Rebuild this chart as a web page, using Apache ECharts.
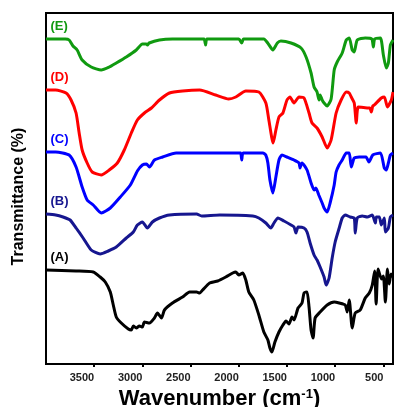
<!DOCTYPE html>
<html>
<head>
<meta charset="utf-8">
<script src="https://cdn.jsdelivr.net/npm/echarts@6/dist/echarts.min.js"></script>
<style>
  html, body { margin: 0; padding: 0; background: #fff; }
  #chart { width: 394px; height: 407px; }
</style>
</head>
<body>
<div id="chart"></div>
<script>
// FTIR spectra, [wavenumber, transmittance (offset, arbitrary units)]
var tickValues = [3500, 3000, 2500, 2000, 1500, 1000, 500];
var curveNames = ["(A)", "(B)", "(C)", "(D)", "(E)"];
var curveColors = ["#000000", "#16168f", "#0000ff", "#ff0000", "#109a10"];

var curveE = [[4000,325],[3900,325],[3800,325],[3760,324],[3720,318],[3677,314],[3625,304],[3531,297],[3427,294],[3344,297],[3271,301],[3167,307],[3063,314],[3000,320],[2960,320],[2948,319],[2930,321],[2823,324],[2688,325],[2400,325],[2360,325],[2344,319],[2330,325],[2000,325],[1969,321],[1950,325],[1740,325],[1700,321],[1646,314],[1600,321],[1563,323],[1458,321],[1354,316],[1302,307],[1250,291],[1219,277],[1188,272],[1167,264],[1156,269],[1135,264],[1115,261],[1083,258],[1042,265],[1010,294],[979,302],[927,311],[885,324],[854,326],[823,314],[802,312],[771,324],[688,326],[620,325],[604,317],[590,325],[531,326],[500,309],[469,296],[448,301],[427,319],[400,324]];

var curveD = [[4000,274],[3900,274],[3792,271],[3740,264],[3688,251],[3656,231],[3625,214],[3573,201],[3521,192],[3427,189],[3344,194],[3260,201],[3188,214],[3115,231],[3052,244],[2979,251],[2906,256],[2823,264],[2719,271],[2583,273],[2406,274],[2240,269],[2104,265],[2031,267],[1927,273],[1792,272],[1719,261],[1688,244],[1643,221],[1615,234],[1583,247],[1542,251],[1500,264],[1469,267],[1427,261],[1375,267],[1323,266],[1271,251],[1240,241],[1188,236],[1135,227],[1083,216],[1042,224],[990,251],[938,264],[885,272],[854,271],[833,267],[802,261],[781,241],[760,257],[667,256],[640,256],[625,252],[610,258],[594,259],[521,266],[490,267],[458,257],[417,264],[400,272]];

var curveC = [[4000,212],[3900,212],[3760,209],[3688,197],[3625,177],[3573,164],[3510,159],[3427,151],[3333,156],[3229,167],[3125,179],[3052,193],[3000,199],[2958,200],[2927,197],[2875,204],[2790,207],[2650,211],[2000,211],[1980,211],[1969,204],[1955,211],[1750,211],[1720,209],[1698,201],[1677,184],[1646,171],[1615,187],[1583,204],[1552,209],[1500,207],[1427,204],[1375,201],[1365,196],[1344,201],[1292,194],[1250,181],[1219,174],[1200,176],[1170,169],[1135,161],[1115,156],[1083,152],[1050,162],[1010,179],[990,192],[960,199],[927,204],[885,211],[854,211],[833,197],[802,206],[750,207],[680,207],[650,202],[610,209],[530,211],[490,196],[470,194],[448,201],[427,209],[400,211]];

var curveB = [[4000,150],[3900,149],[3823,147],[3750,144],[3688,136],[3615,126],[3531,114],[3438,110],[3354,113],[3271,117],[3167,126],[3094,132],[3052,139],[3000,142],[2948,136],[2896,142],[2823,146],[2719,149],[2438,150],[2385,148],[2198,149],[1854,148],[1792,146],[1719,141],[1667,136],[1635,141],[1594,146],[1531,143],[1458,139],[1427,137],[1406,131],[1385,137],[1323,136],[1292,132],[1260,121],[1219,109],[1188,104],[1156,97],[1115,87],[1094,79],[1063,86],[1031,106],[1000,122],[958,136],[927,146],[896,149],[844,147],[802,146],[792,131],[771,146],[719,148],[667,147],[615,149],[583,141],[573,147],[542,147],[521,139],[490,146],[479,132],[448,136],[427,147],[400,149]];

var curveA = [[4000,94],[3688,93],[3510,92],[3438,87],[3385,82],[3333,72],[3302,59],[3271,47],[3219,41],[3146,35],[3115,34],[3094,38],[3063,36],[3031,38],[3000,37],[2979,42],[2927,41],[2875,46],[2844,51],[2802,46],[2771,54],[2688,61],[2583,67],[2510,72],[2438,72],[2406,71],[2375,74],[2302,81],[2219,83],[2135,87],[2063,91],[2031,92],[2000,89],[1958,91],[1927,84],[1896,72],[1844,64],[1792,49],[1740,32],[1698,24],[1677,16],[1656,12],[1625,22],[1583,32],[1542,39],[1510,43],[1479,40],[1448,47],[1427,44],[1385,56],[1344,61],[1323,71],[1292,72],[1271,57],[1250,34],[1229,26],[1208,46],[1156,52],[1083,59],[1010,62],[958,61],[896,59],[875,52],[854,64],[823,36],[792,51],[740,54],[688,66],[646,71],[615,79],[590,93],[575,60],[555,95],[520,85],[500,88],[479,62],[458,95],[440,80],[420,90],[400,87]];

var curves = [curveA, curveB, curveC, curveD, curveE];
var font = "'Liberation Sans', Arial, sans-serif";

var series = [];
for (var i = 0; i < curves.length; i++) {
    series.push({
        name: curveNames[i],
        type: "line",
        data: curves[i],
        showSymbol: false,
        smooth: 0.2,
        lineStyle: { color: curveColors[i], width: 3 },
        markPoint: {
            symbol: "rect",
            symbolSize: 1,
            itemStyle: { color: "rgba(0,0,0,0)" },
            label: {
                show: true,
                position: [5, -19],
                formatter: curveNames[i],
                color: curveColors[i],
                fontFamily: font,
                fontWeight: "bold",
                fontSize: 13
            },
            data: [{ coord: curves[i][0] }]
        }
    });
}

var myChart = echarts.init(document.getElementById("chart"));
myChart.setOption({
    animation: false,
    grid: {
        left: 46, top: 13, right: 1, bottom: 43,
        outerBoundsMode: "none",
        show: true, borderColor: "#000", borderWidth: 2
    },
    xAxis: {
        type: "value",
        inverse: true,
        min: 400,
        max: 4000,
        name: "{a|Wavenumber (cm}{b|-1}{a|)}",
        nameLocation: "middle",
        nameGap: 22,
        nameTextStyle: {
            rich: {
                a: { fontFamily: font, fontWeight: "bold", fontSize: 22, color: "#000" },
                b: { fontFamily: font, fontWeight: "bold", fontSize: 13, color: "#000", verticalAlign: "top" }
            }
        },
        axisLine: { lineStyle: { color: "#000", width: 2 } },
        axisTick: { customValues: tickValues, length: 3, lineStyle: { color: "#000", width: 2 } },
        axisLabel: {
            customValues: tickValues,
            formatter: function (v) { return String(v); },
            align: "right",
            margin: 8,
            fontFamily: font,
            fontWeight: "bold",
            fontSize: 11,
            color: "#222"
        },
        splitLine: { show: false }
    },
    yAxis: {
        type: "value",
        min: 0,
        max: 351,
        name: "Transmittance (%)",
        nameLocation: "middle",
        nameGap: 19,
        nameTextStyle: {
            fontFamily: font, fontWeight: "bold", fontSize: 16, color: "#000",
            padding: [0, 16, 0, 0]
        },
        axisLine: { show: false },
        axisTick: { show: false },
        axisLabel: { show: false },
        splitLine: { show: false }
    },
    series: series
});
</script>
</body>
</html>
